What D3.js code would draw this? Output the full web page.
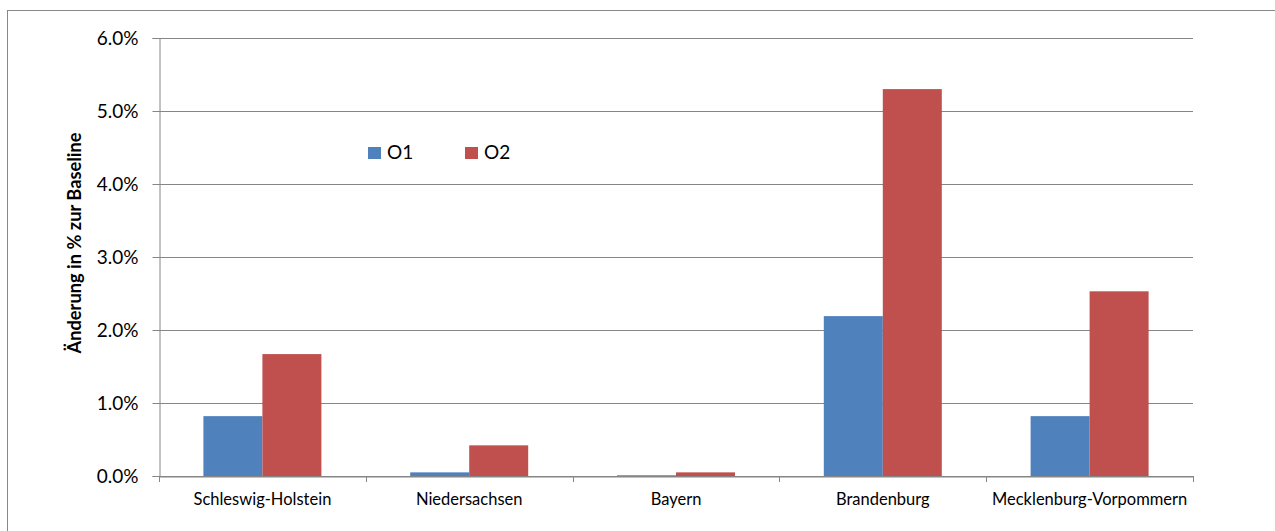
<!DOCTYPE html>
<html><head><meta charset="utf-8">
<script src="https://cdn.jsdelivr.net/npm/d3@7"></script>
<style>body{margin:0;background:#fff}svg{display:block}text{font-family:Lato,"Open Sans",sans-serif;fill:#000}</style>
</head><body><svg id="c" width="1275" height="531"></svg>
<script>
const categories = ["Schleswig-Holstein","Niedersachsen","Bayern","Brandenburg","Mecklenburg-Vorpommern"];
const seriesNames = ["O1","O2"];
const o1 = [0.0082,0.0005,0.0001,0.0219,0.0082];
const o2 = [0.0167,0.0042,0.0005,0.0530,0.0253];
const yTicks = [0,0.01,0.02,0.03,0.04,0.05,0.06];
const colors = ["#4F81BD","#C0504D"];

(function(){
const FF = "Lato,'Open Sans',sans-serif";
const svg = d3.select("#c");
svg.append("rect").attr("x",7.5).attr("y",10.5).attr("width",1280).attr("height",540)
  .attr("fill","#fff").attr("stroke","#888").attr("stroke-width",1);

const pl=159, pr=1193, pt=38, pb=476;
const x = d3.scaleBand().domain(categories).range([pl,pr]).paddingInner(0).paddingOuter(0);
const x1 = d3.scaleBand().domain(seriesNames).range([0,118]);
const y = d3.scaleLinear().domain([0,0.06]).range([pb,pt]);

svg.append("g").selectAll("line").data(yTicks).join("line")
  .attr("x1",pl).attr("x2",pr)
  .attr("y1",d=>Math.round(y(d))+0.5).attr("y2",d=>Math.round(y(d))+0.5)
  .attr("stroke","#868686").attr("stroke-width",1);

const data = categories.map((c,i)=>({c, vals:[o1[i],o2[i]]}));
const g = svg.append("g").selectAll("g").data(data).join("g")
  .attr("transform",d=>`translate(${x(d.c)+x.bandwidth()/2-59},0)`);
g.selectAll("rect").data(d=>d.vals.map((v,j)=>({v,s:seriesNames[j],j}))).join("rect")
  .attr("x",d=>x1(d.s)).attr("width",x1.bandwidth())
  .attr("y",d=>y(d.v)).attr("height",d=>pb-y(d.v))
  .attr("fill",d=>colors[d.j]);

const yAxis = d3.axisLeft(y).tickValues(yTicks).tickFormat(d3.format(".1%")).tickSizeOuter(0).tickSize(7).tickPadding(14);
const ya = svg.append("g").attr("transform",`translate(${pl+0.5},0)`).call(yAxis);
ya.selectAll("line,path").attr("stroke","#868686");
ya.selectAll("text").attr("font-size",19).style("font-family",FF);

const xAxis = d3.axisBottom(x).tickSize(0).tickPadding(17).tickSizeOuter(0);
const xa = svg.append("g").attr("transform",`translate(0,${pb+0.5})`).call(xAxis);
xa.select("path").attr("stroke","#868686");
xa.selectAll("text").attr("font-size",16.5).style("font-family",FF);
const edges = categories.map(c=>x(c)).concat([pr]);
svg.append("g").selectAll("line").data(edges).join("line")
  .attr("x1",d=>Math.round(d)+0.5).attr("x2",d=>Math.round(d)+0.5)
  .attr("y1",pb).attr("y2",pb+6).attr("stroke","#868686");

const t = svg.append("text").attr("transform",`translate(81,243) rotate(-90)`)
  .attr("text-anchor","middle").attr("font-size",16).attr("font-weight","bold")
  .text("Änderung in % zur Baseline");
const len = t.node().getComputedTextLength();
if (len>0) t.attr("font-size", 16*221/len);

const leg = svg.append("g").selectAll("g").data(seriesNames).join("g")
  .attr("transform",(d,i)=>`translate(${368+i*97},147)`);
leg.append("rect").attr("width",13).attr("height",12).attr("fill",(d,i)=>colors[i]);
leg.append("text").attr("x",19).attr("y",11.5).attr("font-size",19).text(d=>d);
})();
</script></body></html>
